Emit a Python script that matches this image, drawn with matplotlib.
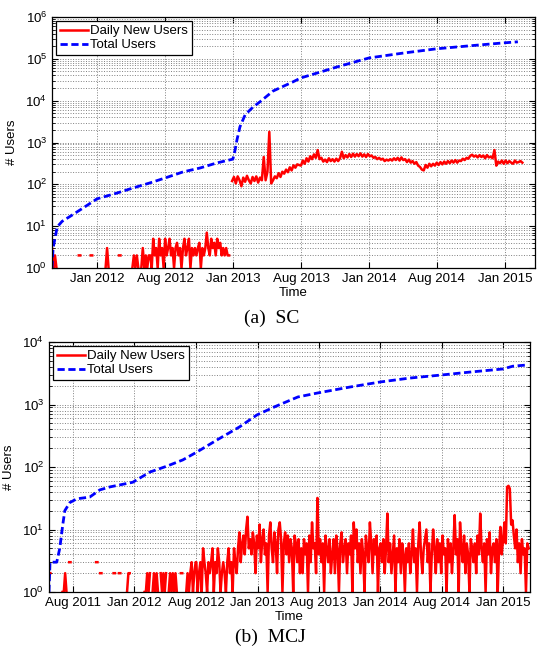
import numpy as np
import pandas as pd
import matplotlib
matplotlib.use('Agg')
import matplotlib.pyplot as plt
from matplotlib.ticker import LogLocator, NullFormatter

plt.rcParams['font.family'] = ['Liberation Sans', 'DejaVu Sans']
plt.rcParams['mathtext.fontset'] = 'custom'
plt.rcParams['mathtext.rm'] = 'Liberation Sans'
plt.rcParams['mathtext.it'] = 'Liberation Sans:italic'

# ---- (a) SC ----
# daily new users, every 4 days from 2011-10-02 (sparse start)
sc_early = [3, 1, 2, 1,
            0, 1, 0, 0, 1, 0, 0, 1, 0, 0, 1, 0, 0, 0,
            2, 2, 0, 0, 1, 0, 0, 0, 2, 2,
            0, 0, 1, 0, 0, 1, 0, 0, 1, 3, 1,
            0, 0, 1, 0, 0, 0, 2, 2, 0, 0, 1, 0, 0, 1, 0,
            1, 2, 1, 2, 1, 0, 1, 3, 1, 2, 1, 2, 2, 1, 5,
            2, 3, 1, 5, 2, 3, 1, 5, 2, 3, 5, 2,
            3, 1, 3, 4, 2, 3, 1, 3, 5, 2, 3, 5, 1, 3, 2,
            3, 2, 3, 4, 1, 3, 2, 3, 7, 3, 2, 5, 3, 4, 2,
            5, 3, 4, 2, 3, 2, 3, 2, 2]
# daily new users, every 5 days from 2013-01-28
sc_late = [120, 150, 105, 155, 125, 90, 145, 115, 160, 125, 105, 150, 120, 155, 110, 145, 125,
           450, 125, 200, 1800, 105, 125, 155,
           140, 185, 150, 200, 180, 225, 195, 255, 215, 285, 250, 300, 290,
           280, 370, 310, 420, 350, 470, 400, 520, 430, 660, 400,
           430, 350, 390, 340, 420, 360, 400, 350, 410, 360, 420,
           600, 420, 500, 440, 530, 450, 540, 460, 530, 470, 550, 460, 520, 450, 530, 470,
           490, 430, 450, 400, 430, 390, 410, 360, 390, 370,
           400, 370, 420, 380, 430, 370, 440, 380, 400, 340, 390, 330, 360, 310, 340, 280, 260,
           225, 215, 290, 250, 310,
           270, 310, 280, 330, 290, 340, 300, 350, 310, 360, 320, 370, 330, 380, 330, 370,
           360, 410, 380, 430, 410, 480, 510, 460,
           490, 440, 500, 450, 490, 420, 500, 440, 460, 420, 660,
           280, 350, 320, 370, 310, 370, 320, 360, 330, 310, 370, 330, 340, 360, 330]
sc_total_dates = ['2011-10-02', '2011-10-05', '2011-10-16', '2011-10-29', '2011-11-19',
                  '2011-12-24', '2012-01-31', '2012-03-25', '2012-05-07', '2012-06-21',
                  '2012-08-01', '2012-09-18', '2012-11-03', '2012-12-18', '2013-01-30',
                  '2013-02-05', '2013-02-10', '2013-02-18', '2013-03-04', '2013-03-25',
                  '2013-04-13', '2013-05-18', '2013-07-10', '2013-08-01', '2013-09-21',
                  '2013-11-06', '2014-01-31', '2014-05-02', '2014-08-01', '2014-10-29',
                  '2015-01-26', '2015-03-07']
sc_total = [1, 3, 9.6, 13, 17, 27, 45, 62, 82, 108, 142, 198, 246, 325, 400,
            665, 1150, 2360, 4600, 7000, 9400, 17000, 28000, 35000, 48000,
            64000, 105000, 137000, 174000, 205000, 240000, 255000]
sc_ticks = ['2012-01-31', '2012-08-01', '2013-01-31', '2013-08-01',
            '2014-01-31', '2014-08-01', '2015-01-31']
sc_labels = ['Jan 2012', 'Aug 2012', 'Jan 2013', 'Aug 2013', 'Jan 2014', 'Aug 2014', 'Jan 2015']

# ---- (b) MCJ ----
# daily new users, every 4 days from 2011-05-22
mcj_early = [2, 2, 0,
             0, 1, 0, 0, 1, 0, 0, 1,
             1, 2, 1, 0, 3, 3, 0,
             0, 1, 0, 0, 1, 0, 0, 0, 1, 0, 0, 1, 0, 0, 0, 1, 0,
             3, 3, 0, 2, 2,
             0, 0, 1, 0, 0, 1, 0, 0, 2, 2, 0, 0, 2, 2,
             0, 1, 0, 0, 1, 2, 2,
             0, 0, 1, 0, 0, 1, 0, 0, 1, 0, 1,
             1, 2, 1, 2, 0, 1, 2, 1, 2, 1, 0, 2, 1, 2, 1, 2, 0, 1, 2, 1, 2, 1, 2, 1,
             0, 0, 2, 2, 0, 0,
             1, 2, 1, 2, 3, 1, 2, 3]
# daily new users, every 4 days from 2012-08-02
mcj_late = [3, 1, 2, 3, 1, 5, 3, 2, 1, 3, 2, 3, 5, 1, 3, 2, 5, 3, 1, 2, 3, 2, 1, 3, 5, 2, 3, 1, 5, 3,
            2, 5, 9, 3, 6, 8, 4, 10, 16, 5, 7,
            4, 9, 6, 2, 8, 5, 12, 3, 7, 10, 4, 6, 1, 8, 13, 5, 3, 9, 6, 2, 10, 13, 7, 1, 6, 9, 4,
            8, 3, 7, 5, 1, 8, 6, 3, 7, 2,
            5, 2, 7, 4, 6, 1, 8, 3, 13, 5, 6, 2, 32, 4, 7, 3, 6, 1, 8, 5, 3, 7, 2,
            4, 7, 2, 8, 5, 1, 6, 9, 3, 5, 7, 2, 6, 4, 8, 1, 13, 5, 10, 3, 6, 2, 7, 4, 1, 8, 5, 3,
            13, 6, 2, 7, 4, 8, 1, 5, 6, 3, 7, 2,
            5, 18, 3, 6, 2, 4, 8, 1, 5, 3, 7, 2, 6, 4, 1, 5, 3, 6, 2, 4, 10, 3, 5, 1, 6, 13, 4, 2,
            5, 7, 10, 3, 6, 1, 4, 10, 5, 2, 7, 3,
            6, 2, 8, 4, 5, 1, 7, 3, 6, 2, 5, 17, 4, 7, 1, 13, 5, 3, 8, 2, 6, 4, 1, 7, 5, 3, 6, 2,
            8, 4, 18, 5, 3, 6, 1, 7, 4, 9, 2, 5, 6, 3, 7, 1, 5,
            11, 4, 7, 13, 6, 48, 50, 45, 12, 14, 8, 5, 10, 3, 6, 2, 7, 4, 5, 1, 6, 5]
mcj_total_dates = ['2011-05-22', '2011-05-25', '2011-06-14', '2011-06-23', '2011-07-02',
                   '2011-07-08', '2011-07-23', '2011-08-13', '2011-09-20', '2011-10-20',
                   '2011-11-19', '2012-01-26', '2012-03-17', '2012-05-06', '2012-06-23',
                   '2012-08-04', '2012-10-02', '2012-12-09', '2013-01-29', '2013-03-29',
                   '2013-05-31', '2013-07-29', '2013-11-01', '2014-01-30', '2014-04-29',
                   '2014-08-02', '2014-10-24', '2015-01-30', '2015-03-01', '2015-04-15']
mcj_total = [1, 3, 3, 5, 12, 20, 27, 31, 33, 43, 48, 57, 83, 103, 130,
             174, 270, 440, 680, 950, 1320, 1530, 1900, 2290, 2650,
             2970, 3300, 3700, 4100, 4300]
mcj_ticks = ['2011-08-01', '2012-01-31', '2012-08-01', '2013-01-31', '2013-08-01',
             '2014-01-31', '2014-08-01', '2015-01-31']
mcj_labels = ['Aug 2011', 'Jan 2012', 'Aug 2012', 'Jan 2013', 'Aug 2013',
              'Jan 2014', 'Aug 2014', 'Jan 2015']


def masked(vals):
    y = np.array(vals, dtype=float)
    y[y <= 0] = np.nan
    return y


def panel(ax, early, early_start, late, late_start, late_step, tot_dates, tot,
          xlim, ticks, labels, ymax, join):
    xe = pd.date_range(early_start, periods=len(early), freq='4D')
    xl = pd.date_range(late_start, periods=len(late), freq=late_step)
    if join:
        ax.plot(xe.append(xl), masked(early + late), color='red', lw=1.8, label='Daily New Users')
    else:
        ax.plot(xe, masked(early), color='red', lw=1.8, label='Daily New Users')
        ax.plot(xl, masked(late), color='red', lw=1.8)
    ax.plot(pd.to_datetime(tot_dates), tot, color='blue', lw=2.0,
            ls=(0, (2.6, 1.3)), label='Total Users')
    ax.set_yscale('log', nonpositive='mask')
    ax.set_ylim(1, ymax)
    ax.set_xlim(pd.Timestamp(xlim[0]), pd.Timestamp(xlim[1]))
    ax.yaxis.set_major_locator(LogLocator(base=10, numticks=12))
    ax.yaxis.set_minor_locator(LogLocator(base=10, subs=np.arange(2, 10), numticks=12))
    ax.yaxis.set_minor_formatter(NullFormatter())
    ax.set_xticks(pd.to_datetime(ticks))
    ax.set_xticklabels(labels)
    ax.grid(True, which='major', axis='both', ls=':', color='0.5', lw=0.7)
    ax.grid(True, which='minor', axis='y', ls=':', color='0.5', lw=0.7)
    ax.tick_params(which='both', direction='in', top=True, right=True, labelsize=9.5)
    ax.tick_params(which='major', length=4, width=0.8)
    ax.tick_params(which='minor', length=2, width=0.6)
    for s in ax.spines.values():
        s.set_linewidth(0.9)
    ax.set_xlabel('Time', fontsize=9.5)
    ax.set_ylabel('# Users', fontsize=9.5)
    leg = ax.legend(loc='upper left', fontsize=9.5, fancybox=False, framealpha=1,
                    edgecolor='black', borderpad=0.3, labelspacing=0.15,
                    handlelength=2.1, handletextpad=0.2, borderaxespad=0.3)
    leg.get_frame().set_linewidth(0.9)


fig = plt.figure(figsize=(5.39, 6.48), dpi=100)
ax1 = fig.add_axes([52 / 539, 1 - 268 / 648, 483 / 539, 251 / 648])
ax2 = fig.add_axes([49 / 539, 1 - 592 / 648, 481 / 539, 250 / 648])

panel(ax1, sc_early, '2011-10-02', sc_late, '2013-01-28', '5D', sc_total_dates, sc_total,
      ('2011-10-02', '2015-04-22'), sc_ticks, sc_labels, 1e6, join=False)
panel(ax2, mcj_early, '2011-05-22', mcj_late, '2012-08-02', '4D', mcj_total_dates, mcj_total,
      ('2011-05-22', '2015-04-21'), mcj_ticks, mcj_labels, 1e4, join=True)

ax1.xaxis.set_label_coords(0.5, -0.075)
ax2.xaxis.set_label_coords(0.5, -0.075)
ax1.yaxis.set_label_coords(-0.070, 0.5)
ax2.yaxis.set_label_coords(-0.071, 0.5)

fig.text(272 / 539, 1 - 318 / 648, '(a)  SC', ha='center', va='center',
         family='Liberation Serif', fontsize=14)
fig.text(270 / 539, 1 - 637 / 648, '(b)  MCJ', ha='center', va='center',
         family='Liberation Serif', fontsize=14)

fig.savefig('out.png', dpi=100)
